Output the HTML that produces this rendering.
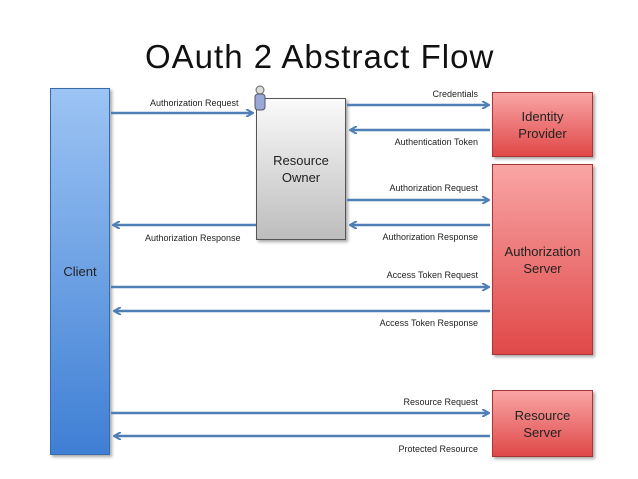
<!DOCTYPE html>
<html><head><style>
body{margin:0;width:638px;height:479px;background:#fff;position:relative;overflow:hidden;font-family:"Liberation Sans",sans-serif}
.b{position:absolute;box-sizing:border-box;border:1px solid #555;display:flex;align-items:center;justify-content:center;text-align:center;font-size:13px;line-height:17px;color:#222;box-shadow:2px 2px 3px rgba(0,0,0,.35)}
.red{background:linear-gradient(#f9a5a5,#e04848);border-color:#a33}
.l{position:absolute;font-size:9px;color:#222;white-space:nowrap}
.r{text-align:right}
</style></head><body>
<div style="position:absolute;left:145px;top:38px;font-size:33px;color:#111;letter-spacing:1px">OAuth 2 Abstract Flow</div>
<div class="b" style="left:50px;top:88px;width:60px;height:367px;background:linear-gradient(#9cc4f4,#3f7fd4);border-color:#3a6aa8">Client</div>
<div class="b" style="left:256px;top:98px;width:90px;height:142px;background:linear-gradient(#fafafa,#bdbdbd)">Resource<br>Owner</div>
<div class="b red" style="left:492px;top:92px;width:101px;height:65px">Identity<br>Provider</div>
<div class="b red" style="left:492px;top:164px;width:101px;height:191px">Authorization<br>Server</div>
<div class="b red" style="left:492px;top:390px;width:101px;height:67px">Resource<br>Server</div>
<svg style="position:absolute;left:0;top:0" width="638" height="479">
<defs><marker id="a" markerWidth="8" markerHeight="8" refX="7" refY="4" orient="auto" markerUnits="userSpaceOnUse"><path d="M0,0 L7,4 L0,8" fill="none" stroke="#4f7fb5" stroke-width="2"/></marker></defs>
<g stroke="#4f7fb5" stroke-width="2.5" marker-end="url(#a)">
<line x1="111" y1="113" x2="253" y2="113"/>
<line x1="256" y1="225" x2="113" y2="225"/>
<line x1="347" y1="105" x2="489" y2="105"/>
<line x1="490" y1="130" x2="350" y2="130"/>
<line x1="347" y1="200" x2="489" y2="200"/>
<line x1="490" y1="225" x2="350" y2="225"/>
<line x1="111" y1="287" x2="489" y2="287"/>
<line x1="490" y1="311" x2="114" y2="311"/>
<line x1="111" y1="413" x2="489" y2="413"/>
<line x1="490" y1="436" x2="114" y2="436"/>
</g>
<g transform="translate(252,84)">
<circle cx="8" cy="6" r="4" fill="#ddd" stroke="#666"/>
<rect x="3" y="10" width="10" height="16" rx="3" fill="#9aa8d8" stroke="#556"/>
</g>
</svg>
<div class="l" style="left:150px;top:98px">Authorization Request</div>
<div class="l" style="left:145px;top:233px">Authorization Response</div>
<div class="l r" style="right:160px;top:89px">Credentials</div>
<div class="l r" style="right:160px;top:137px">Authentication Token</div>
<div class="l r" style="right:160px;top:183px">Authorization Request</div>
<div class="l r" style="right:160px;top:232px">Authorization Response</div>
<div class="l r" style="right:160px;top:270px">Access Token Request</div>
<div class="l r" style="right:160px;top:318px">Access Token Response</div>
<div class="l r" style="right:160px;top:397px">Resource Request</div>
<div class="l r" style="right:160px;top:444px">Protected Resource</div>
</body></html>
